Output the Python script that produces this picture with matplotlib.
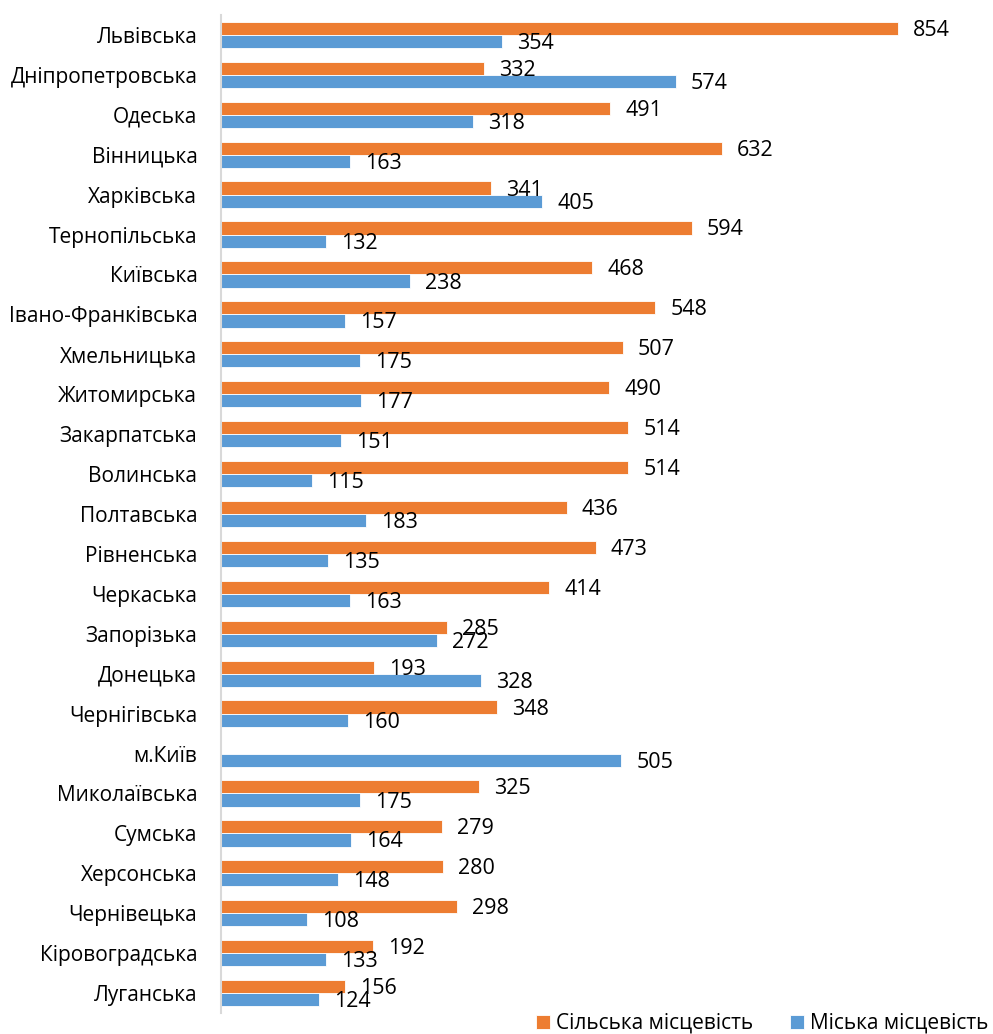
import matplotlib
matplotlib.use("Agg")
import matplotlib.pyplot as plt
import numpy as np

regions = ["Львівська", "Дніпропетровська", "Одеська", "Вінницька", "Харківська",
           "Тернопільська", "Київська", "Івано-Франківська", "Хмельницька", "Житомирська",
           "Закарпатська", "Волинська", "Полтавська", "Рівненська", "Черкаська",
           "Запорізька", "Донецька", "Чернігівська", "м.Київ", "Миколаївська",
           "Сумська", "Херсонська", "Чернівецька", "Кіровоградська", "Луганська"]
rural = [854, 332, 491, 632, 341, 594, 468, 548, 507, 490, 514, 514, 436, 473, 414,
         285, 193, 348, None, 325, 279, 280, 298, 192, 156]
urban = [354, 574, 318, 163, 405, 132, 238, 157, 175, 177, 151, 115, 183, 135, 163,
         272, 328, 160, 505, 175, 164, 148, 108, 133, 124]
series_names = ["Сільська місцевість", "Міська місцевість"]

plt.rcParams['font.family'] = ['Open Sans', 'DejaVu Sans']

W, H = 993, 1034
fig = plt.figure(figsize=(W / 100, H / 100), dpi=100)
ax_left = 221 / W
ax_bottom = (H - 1013) / H
ax_top = (H - 15) / H
ax = fig.add_axes([ax_left, ax_bottom, 1 - ax_left, ax_top - ax_bottom])

orange = "#ED7D31"
blue = "#5B9BD5"
y = np.arange(len(regions))
h = 0.33
rv = [v if v is not None else 0 for v in rural]
b1 = ax.barh(y - h / 2, rv, height=h, color=orange, edgecolor="white", linewidth=0.6,
             label=series_names[0])
b2 = ax.barh(y + h / 2, urban, height=h, color=blue, edgecolor="white", linewidth=0.6,
             label=series_names[1])

fs = 15.5
for yi, v in zip(y, rural):
    if v is None:
        continue
    ax.annotate(str(v), (v, yi - h / 2), xytext=(15, -2), textcoords="offset pixels",
                va="center", ha="left", fontsize=fs, color="black", annotation_clip=False)
for yi, v in zip(y, urban):
    ax.annotate(str(v), (v, yi + h / 2), xytext=(15, -2), textcoords="offset pixels",
                va="center", ha="left", fontsize=fs, color="black", annotation_clip=False)

scale = (898 - 221) / 854.0
ax.set_xlim(0, (W - 221) / scale)
ax.set_ylim(len(regions) - 0.5, -0.5)
ax.set_yticks(y)
ax.set_yticklabels(regions, fontsize=15)
ax.tick_params(axis="y", length=0, pad=17)
ax.set_xticks([])
for s in ["top", "right", "bottom"]:
    ax.spines[s].set_visible(False)
ax.spines["left"].set_color("#D9D9D9")
ax.spines["left"].set_linewidth(1.5)

fig.legend(handles=[b1, b2], labels=series_names, loc="lower right",
           bbox_to_anchor=(1.004, -0.008), ncol=2, frameon=False, fontsize=15,
           handlelength=0.65, handleheight=0.65, handletextpad=0.3, columnspacing=1.8,
           borderaxespad=0.0)

fig.savefig("out.png", dpi=100)
